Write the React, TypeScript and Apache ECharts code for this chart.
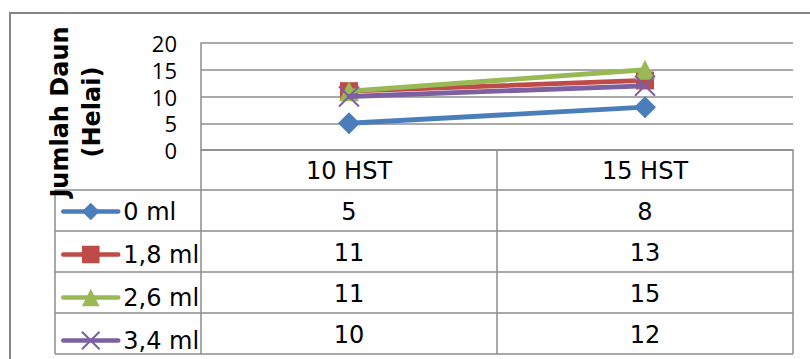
import React, { useEffect, useRef } from "react";
import * as echarts from "echarts";

const categories = ["10 HST", "15 HST"];
const seriesNames = ["0 ml", "1,8 ml", "2,6 ml", "3,4 ml"];
const values0ml = [5, 8];
const values18ml = [11, 13];
const values26ml = [11, 15];
const values34ml = [10, 12];
const yTicks = [0, 5, 10, 15, 20];
const yTitle = "Jumlah Daun\n(Helai)";

const COLORS = ["#4A7EBB", "#BE4B48", "#98B954", "#7D60A0"];
const GRID = "#8c8c8c";
const TABLE_FONT = "DejaVu Sans";

export default function App() {
  const ref = useRef<HTMLDivElement>(null);

  useEffect(() => {
    document.body.style.margin = "0";
    const chart = echarts.init(ref.current!, null, { renderer: "svg" });
    const seriesData = [values0ml, values18ml, values26ml, values34ml];
    const symbols = ["diamond", "rect", "triangle", "path://M0,0L10,10M10,0L0,10"];
    const symbolSizes = [22, 18, 20, 20];

    chart.setOption({
      animation: false,
      backgroundColor: "#ffffff",
      grid: { left: 201, right: 17, top: 43, bottom: 209 },
      xAxis: {
        type: "category",
        data: categories,
        boundaryGap: true,
        axisLabel: { show: false },
        axisTick: { show: false },
        axisLine: { show: true, lineStyle: { color: GRID, width: 1.5 } },
        splitLine: { show: false },
      },
      yAxis: {
        type: "value",
        min: yTicks[0],
        max: yTicks[yTicks.length - 1],
        interval: yTicks[1] - yTicks[0],
        axisLine: { show: true, lineStyle: { color: GRID, width: 1.5 } },
        axisTick: { show: false },
        splitLine: { show: true, lineStyle: { color: GRID, width: 1.5 } },
        axisLabel: { margin: 24, fontSize: 22, fontFamily: "Open Sans", color: "#000" },
      },
      legend: {
        orient: "vertical",
        left: 61,
        top: 199.5,
        padding: 0,
        itemGap: 19,
        itemWidth: 55,
        itemHeight: 22,
        data: seriesNames.map((n, i) => ({
          name: n,
          lineStyle: { color: COLORS[i], width: 4.5, cap: "round" },
        })),
        textStyle: { fontFamily: TABLE_FONT, fontSize: 24, color: "#000", lineHeight: 22 },
      },
      series: seriesNames.map((n, i) => ({
        type: "line",
        name: n,
        data: seriesData[i],
        symbol: symbols[i],
        symbolSize: symbolSizes[i],
        showSymbol: true,
        lineStyle: { color: COLORS[i], width: 4.8, cap: "round" },
        itemStyle:
          i === 3
            ? { color: COLORS[i], borderColor: COLORS[i], borderWidth: 2 }
            : { color: COLORS[i], borderWidth: 0 },
        z: 2 + i,
      })),
    });

    const c0 = chart.convertToPixel({ xAxisIndex: 0 }, categories[0]) as number;
    const c1 = chart.convertToPixel({ xAxisIndex: 0 }, categories[1]) as number;
    const colW = c1 - c0;
    const bounds = [c0 - colW / 2, c0 + colW / 2, c1 + colW / 2];
    const centers = [c0, c1];
    const yZero = chart.convertToPixel({ yAxisIndex: 0 }, 0) as number;
    const headerH = 40;
    const rowH = 41;
    const legendLeft = 55;
    const rowTops = [yZero, yZero + headerH];
    for (let i = 1; i <= seriesNames.length; i++) rowTops.push(yZero + headerH + rowH * i);
    const bottom = rowTops[rowTops.length - 1];

    const lineStyle = { stroke: GRID, lineWidth: 1.5 };
    const graphics: any[] = [];
    graphics.push({
      type: "rect",
      shape: { x: 10, y: 13, width: 900, height: 500 },
      style: { fill: "none", stroke: "#868686", lineWidth: 2 },
      silent: true,
    });
    for (let r = 1; r < rowTops.length; r++) {
      graphics.push({
        type: "line",
        shape: { x1: legendLeft, y1: rowTops[r], x2: bounds[2], y2: rowTops[r] },
        style: lineStyle,
      });
    }
    graphics.push({
      type: "line",
      shape: { x1: legendLeft, y1: rowTops[1], x2: legendLeft, y2: bottom },
      style: lineStyle,
    });
    bounds.forEach((bx) => {
      graphics.push({
        type: "line",
        shape: { x1: bx, y1: yZero, x2: bx, y2: bottom },
        style: lineStyle,
      });
    });
    categories.forEach((cat, ci) => {
      graphics.push({
        type: "text",
        x: centers[ci],
        y: (rowTops[0] + rowTops[1]) / 2 + 1,
        style: {
          text: cat,
          fontFamily: TABLE_FONT,
          fontSize: 24,
          fill: "#000",
          align: "center",
          verticalAlign: "middle",
        },
      });
      seriesData.forEach((vals, si) => {
        graphics.push({
          type: "text",
          x: centers[ci],
          y: (rowTops[si + 1] + rowTops[si + 2]) / 2 + 1,
          style: {
            text: String(vals[ci]),
            fontFamily: TABLE_FONT,
            fontSize: 24,
            fill: "#000",
            align: "center",
            verticalAlign: "middle",
          },
        });
      });
    });
    graphics.push({
      type: "text",
      x: 76,
      y: 112,
      rotation: Math.PI / 2,
      z: 10,
      style: {
        text: yTitle,
        fontFamily: TABLE_FONT,
        fontWeight: "bold",
        fontSize: 24,
        lineHeight: 32,
        fill: "#000",
        align: "center",
        verticalAlign: "middle",
      },
    });

    chart.setOption({ graphic: graphics });

    return () => chart.dispose();
  }, []);

  return (
    <div
      ref={ref}
      style={{ position: "fixed", left: 0, top: 0, width: 810, height: 359 }}
    />
  );
}
